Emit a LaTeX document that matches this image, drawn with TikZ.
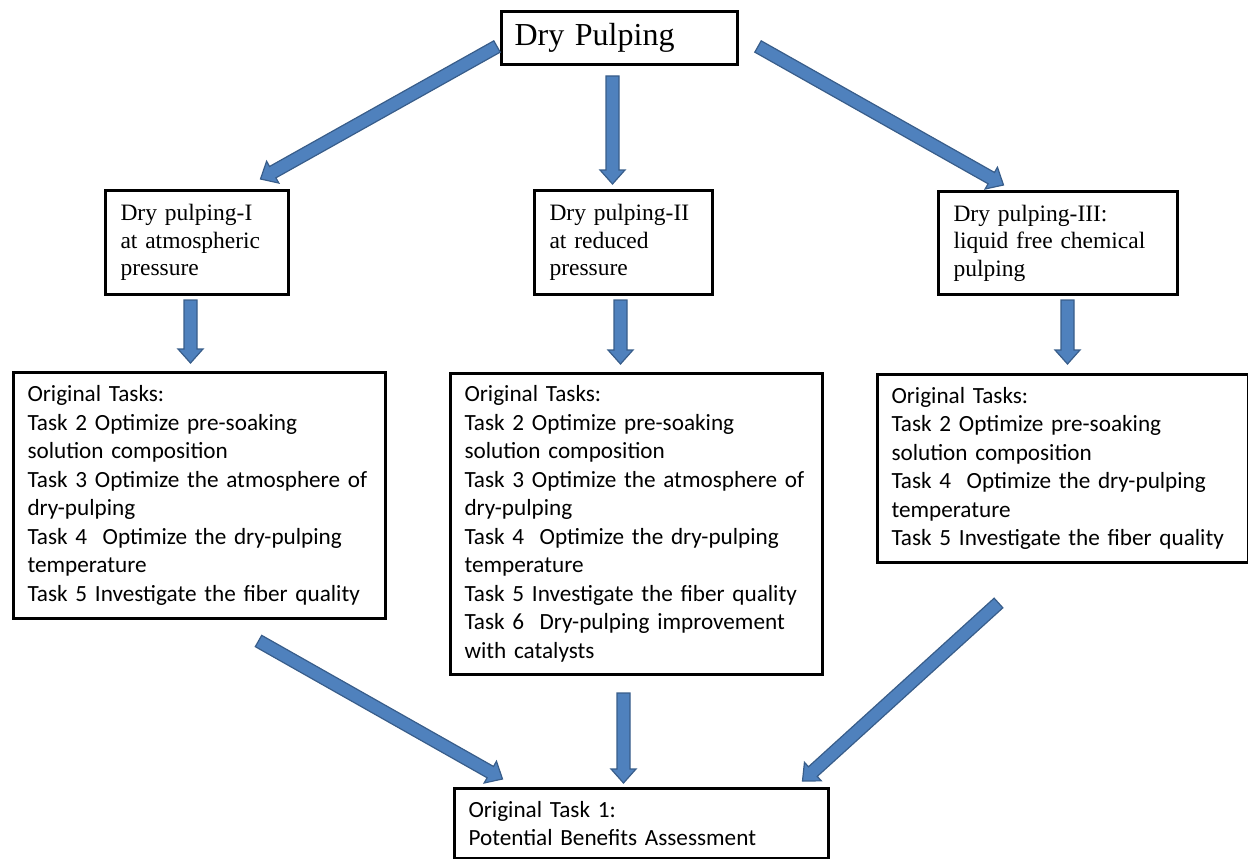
\documentclass[tikz,border=0pt]{standalone}
\usepackage{fontspec}
\setmainfont{Liberation Serif}
\newfontfamily\calibrifont{Carlito}
\usetikzlibrary{calc}

% block arrow from #1 to #2 (shaft, head)
\newcommand{\bluearrow}[2]{%
  \path[arrowshape] let \p1=#1, \p2=#2,
    \n1={atan2(\y2-\y1,\x2-\x1)}, \n2={veclen(\x2-\x1,\y2-\y1)} in
    [shift={(\p1)}, rotate=\n1]
    (0,6.5) -- (\n2-14,6.5) -- (\n2-14,12.5) -- (\n2,0) -- (\n2-14,-12.5)
    -- (\n2-14,-6.5) -- (0,-6.5) -- cycle;}

\begin{document}
\begin{tikzpicture}[x=1pt,y=-1pt,
  stagebox/.style={draw, line width=3pt, anchor=north west, align=left,
    inner xsep=15pt, inner ysep=0pt, font=\fontsize{23.5}{27.5}\selectfont},
  taskbox/.style={draw, line width=3pt, anchor=north west, align=left,
    inner xsep=14pt, inner ysep=0pt, font=\calibrifont\fontsize{23.2}{28.5}\selectfont},
  arrowshape/.style={fill=arrowfill, draw=arrowline, line width=1.2pt, line join=miter}]
	% Define colors for arrows
	\definecolor{arrowfill}{RGB}{79, 129, 189}
	\definecolor{arrowline}{RGB}{56, 93, 138}
	
	\useasboundingbox (0,0) rectangle (1248,859);
	
	% Top box
	\node[draw, line width=3pt, anchor=north west, align=left, inner xsep=13pt,
	  inner ysep=0pt, text width=210pt, minimum height=53pt,
	  font=\fontsize{32}{36}\selectfont] (dry) at (500,10) {Dry Pulping};
	
	% Three dry pulping routes
	\node[stagebox, text width=153pt, minimum height=104pt] (p1) at (104,189)
	  {Dry pulping-I\\at atmospheric\\pressure};
	\node[stagebox, text width=148pt, minimum height=104pt] (p2) at (533,189)
	  {Dry pulping-II\\at reduced\\pressure};
	\node[stagebox, text width=209pt, minimum height=103pt] (p3) at (937,190)
	  {Dry pulping-III:\\liquid free chemical\\pulping};
	
	% Task lists
	\node[taskbox, text width=344pt, minimum height=246pt] (t1) at (12,371)
	  {Original Tasks:\\Task 2 Optimize pre-soaking\\solution composition\\
	   Task 3 Optimize the atmosphere of\\dry-pulping\\
	   Task 4\ \ Optimize the dry-pulping\\temperature\\
	   Task 5 Investigate the fiber quality};
	\node[taskbox, text width=344pt, minimum height=301pt] (t2) at (449,372)
	  {Original Tasks:\\Task 2 Optimize pre-soaking\\solution composition\\
	   Task 3 Optimize the atmosphere of\\dry-pulping\\
	   Task 4\ \ Optimize the dry-pulping\\temperature\\
	   Task 5 Investigate the fiber quality\\
	   Task 6\ \ Dry-pulping improvement\\with catalysts};
	\node[taskbox, text width=343pt, minimum height=188pt] (t3) at (876,373)
	  {Original Tasks:\\Task 2 Optimize pre-soaking\\solution composition\\
	   Task 4\ \ Optimize the dry-pulping\\temperature\\
	   Task 5 Investigate the fiber quality};
	
	% Bottom box
	\node[taskbox, text width=346pt, minimum height=70pt] (b) at (453,787)
	  {Original Task 1:\\Potential Benefits Assessment};
	
	% Arrows from the top box
	\bluearrow{($(dry.west)+(-3,8.5)$)}{($(p1.north)+(63.5,-10)$)}
	\bluearrow{($(dry.south)+(-7,10)$)}{($(p2.north)+(-11,-5)$)}
	\bluearrow{($(dry.east)+(19,8.5)$)}{($(p3.north)+(-54.5,-5)$)}
	
	% Arrows to the task lists
	\bluearrow{($(p1.south)+(-6.5,4)$)}{($(t1.north)+(-9,-8)$)}
	\bluearrow{($(p2.south)+(-3,4)$)}{($(t2.north)+(-16,-8)$)}
	\bluearrow{($(p3.south)+(9.5,4)$)}{($(t3.north)+(4.5,-9)$)}
	
	% Arrows to the bottom box
	\bluearrow{($(t1.south)+(59,21)$)}{($(b.north)+(-139,-8)$)}
	\bluearrow{($(t2.south)+(-13,17)$)}{($(b.north)+(-18,-4)$)}
	\bluearrow{($(t3.south)+(-64.5,39)$)}{($(b.north)+(161,-6)$)}
\end{tikzpicture}
\end{document}
